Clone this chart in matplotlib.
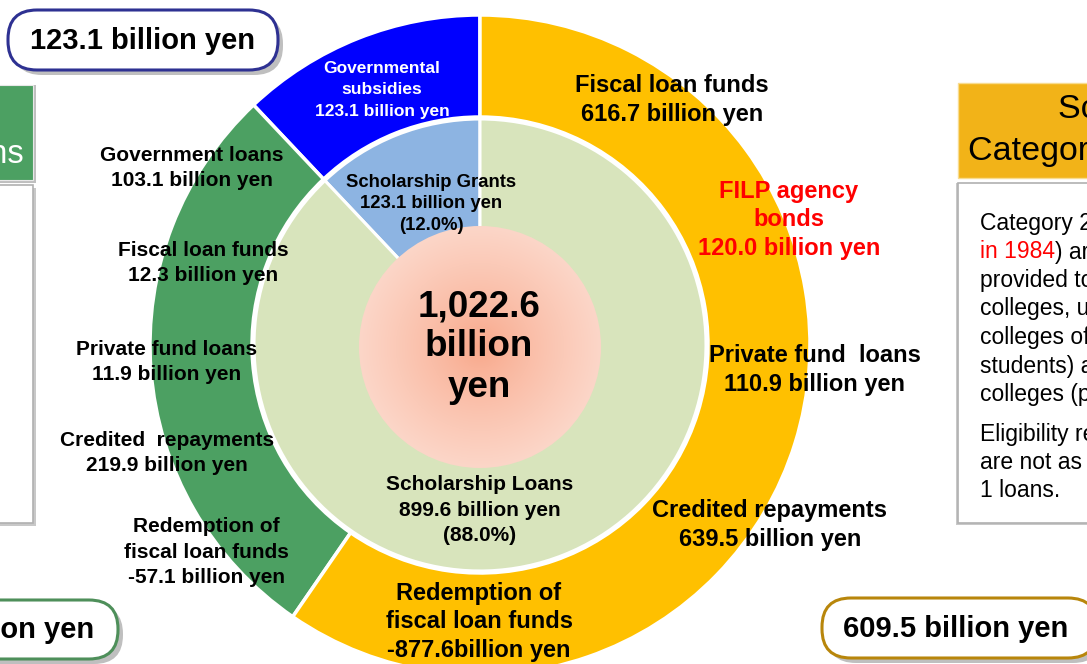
import matplotlib
matplotlib.use('Agg')
import matplotlib.pyplot as plt
import numpy as np
from matplotlib.patches import FancyBboxPatch, Rectangle, Circle

W, H = 1087, 664

# values in billion yen
total = 1022.6
sources = ["Governmental subsidies", "Category 1 loans", "Category 2 loans"]
source_values = [123.1, 290.0, 609.5]
uses = ["Scholarship Grants", "Scholarship Loans"]
use_values = [123.1, 899.6]
use_shares = [12.0, 88.0]
cat1_items = ["Government loans", "Fiscal loan funds", "Private fund loans",
              "Credited  repayments", "Redemption of\nfiscal loan funds"]
cat1_values = [103.1, 12.3, 11.9, 219.9, -57.1]
cat2_items = ["Fiscal loan funds", "FILP agency\nbonds", "Private fund  loans",
              "Credited repayments", "Redemption of\nfiscal loan funds"]
cat2_values = [616.7, 120.0, 110.9, 639.5, -877.6]
cat2_units = [" billion yen"] * 4 + ["billion yen"]

plt.rcParams['font.family'] = ['Liberation Sans', 'DejaVu Sans']

fig = plt.figure(figsize=(W / 100, H / 100), dpi=100)
ax = fig.add_axes([0, 0, 1, 1])

def Y(py):
    # pixel row from top -> data y
    return H - py

cx, cy = 480, Y(345)

# outer ring: where the money comes from
ax.pie(source_values, radius=330, center=(cx, cy), startangle=90, counterclock=True,
       colors=['#0000FF', '#4CA062', '#FFC000'],
       wedgeprops=dict(width=102, edgecolor='white', linewidth=2.5))
# inner pie: what it goes to
ax.pie(use_values, radius=226, center=(cx, cy), startangle=90, counterclock=True,
       colors=['#8DB4E2', '#D8E4BC'],
       wedgeprops=dict(edgecolor='white', linewidth=2.2))

# centre disc with radial gradient
r0 = 121
dcx, dcy = 480, Y(347)
n = 300
gx, gy = np.meshgrid(np.linspace(-1, 1, n), np.linspace(-1, 1, n))
d = np.clip(np.sqrt(gx ** 2 + gy ** 2), 0, 1)
c_in = np.array([248, 166, 136]) / 255
c_out = np.array([252, 214, 200]) / 255
img = c_in[None, None, :] * (1 - d[..., None] ** 0.8) + c_out[None, None, :] * d[..., None] ** 0.8
disc = Circle((dcx, dcy), r0, facecolor='none', edgecolor='none', zorder=3)
ax.add_patch(disc)
im = ax.imshow(img, extent=[dcx - r0, dcx + r0, dcy - r0, dcy + r0], zorder=3, interpolation='bilinear')
im.set_clip_path(disc)

# ring labels
bold = dict(fontweight='bold', ha='center', va='center', zorder=6)
ax.text(382, Y(90), "Governmental\nsubsidies\n%.1f billion yen" % source_values[0],
        color='white', fontsize=12.5, linespacing=1.55, **bold)

cat1_pos = [(192, 168), (203, 263), (167, 362), (167, 453), (206, 552)]
for name, v, (px, py) in zip(cat1_items, cat1_values, cat1_pos):
    ax.text(px, Y(py), "%s\n%.1f billion yen" % (name, v), fontsize=15,
            linespacing=1.43, color='black', **bold)

cat2_pos = [(672, 100), (789, 220), (815, 370), (770, 525), (479, 622)]
cat2_colors = ['black', '#FF0000', 'black', 'black', 'black']
for name, v, u, (px, py), c in zip(cat2_items, cat2_values, cat2_units, cat2_pos, cat2_colors):
    ax.text(px, Y(py), "%s\n%.1f%s" % (name, v, u), fontsize=17,
            linespacing=1.3, color=c, **bold)

ax.text(431, Y(204), "%s\n%.1f billion yen\n(%.1f%%)" % (uses[0], use_values[0], use_shares[0]),
        fontsize=13.3, linespacing=1.33, color='black', **bold)
ax.text(480, Y(510), "%s\n%.1f billion yen\n(%.1f%%)" % (uses[1], use_values[1], use_shares[1]),
        fontsize=15, linespacing=1.46, color='black', **bold)
ax.text(479, Y(347), "{:,.1f}\nbillion\nyen".format(total), fontsize=26.5,
        linespacing=1.2, color='black', **bold)

# rounded total boxes
def pill(x0, top, w, h, edge, label, tx):
    sh = FancyBboxPatch((x0 + 5, Y(top + h) - 5), w, h, boxstyle="round,pad=0,rounding_size=29",
                        facecolor='#BFBFBF', edgecolor='none', zorder=4)
    bx = FancyBboxPatch((x0, Y(top + h)), w, h, boxstyle="round,pad=0,rounding_size=29",
                        facecolor='white', edgecolor=edge, linewidth=2.2, zorder=5)
    ax.add_patch(sh)
    ax.add_patch(bx)
    ax.text(tx, Y(top + h / 2 + 1), label, fontsize=21, **bold)

pill(8, 10, 270, 60, '#2E3192', "%.1f billion yen" % source_values[0], 142)
pill(-160, 600, 278, 59, '#4E8F5A', "%.1f billion yen" % source_values[1], -18)
pill(822, 598, 275, 60, '#B8860B', "%.1f billion yen" % source_values[2], 956)

# left side panel (cut off)
ax.add_patch(Rectangle((-17, Y(183)), 53, 98, facecolor='#BFBFBF', edgecolor='none', zorder=1))
ax.add_patch(Rectangle((-20, Y(180)), 53, 95, facecolor='#4CA062', edgecolor='#E8E8E8',
                       linewidth=0.8, zorder=1))
ax.text(24, Y(163), "Category 1\nInterest-free Loans", color='white', fontsize=23.5,
        ha='right', va='baseline', multialignment='center', linespacing=1.15, zorder=2)
ax.add_patch(Rectangle((-17, Y(526)), 53, 338, facecolor='#C8C8C8', edgecolor='none', zorder=1))
ax.add_patch(Rectangle((-20, Y(523)), 53, 338, facecolor='white', edgecolor='#B0B0B0',
                       linewidth=1.2, zorder=1))

# right side panel (cut off)
ax.add_patch(Rectangle((958, Y(178)), 150, 95, facecolor='#F2B318', edgecolor='#F8DC90',
                       linewidth=1, zorder=1))
ax.text(1058, Y(118), "Scholarship Loans", fontsize=24.5, ha='left', va='baseline', zorder=2)
ax.text(968, Y(160), "Category 2 (Interest-bearing)", fontsize=24.5, ha='left', va='baseline', zorder=2)
ax.add_patch(Rectangle((956, Y(525)), 150, 342, facecolor='#C8C8C8', edgecolor='none', zorder=1))
ax.add_patch(Rectangle((958, Y(523)), 150, 340, facecolor='white', edgecolor='#B0B0B0',
                       linewidth=1.2, zorder=1))

body1 = ["Category 2 loans (introduced",
         None,
         "provided to students of universities, junior",
         "colleges, universities (graduate schools),",
         "colleges of technology (4th and 5th year",
         "students) and professional training",
         "colleges (professional courses)."]
body2 = ["Eligibility requirements for Category 2 loans",
         "are not as strict as those for Category",
         "1 loans."]
fs_body = 16.5
rend = fig.canvas.get_renderer()
for i, line in enumerate(body1):
    yb = Y(230 + 28.5 * i)
    if line is None:
        t = ax.text(980, yb, "in 1984", color='#FF0000', fontsize=fs_body, va='baseline', zorder=2)
        wpx = t.get_window_extent(renderer=rend).width
        ax.text(980 + wpx, yb, ") are interest-bearing loans", color='black', fontsize=fs_body,
                va='baseline', zorder=2)
    else:
        ax.text(980, yb, line, color='black', fontsize=fs_body, va='baseline', zorder=2)
for i, line in enumerate(body2):
    ax.text(980, Y(441 + 28 * i), line, color='black', fontsize=fs_body, va='baseline', zorder=2)

ax.set_xlim(0, W)
ax.set_ylim(0, H)
ax.set_aspect('equal')
ax.axis('off')

fig.savefig('out.png', dpi=100)
